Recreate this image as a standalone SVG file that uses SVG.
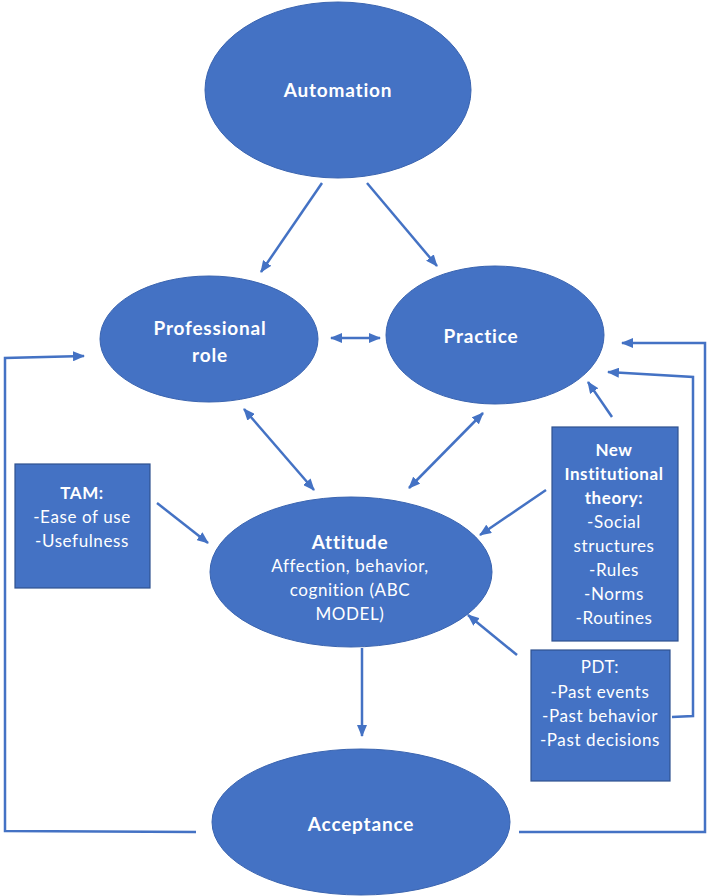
<svg xmlns="http://www.w3.org/2000/svg" width="707" height="896" viewBox="0 0 707 896">
  <defs>
    <marker id="arrow" viewBox="0 0 12 10" refX="11" refY="5" markerWidth="12" markerHeight="10" markerUnits="userSpaceOnUse" orient="auto-start-reverse">
      <path d="M0,0 L12,5 L0,10 Z" fill="#4472C4"/>
    </marker>
    <style>
      .node { fill: #4472C4; stroke: #3A64B0; stroke-width: 1; }
      .box { fill: #4472C4; stroke: #2F528F; stroke-width: 1.2; }
      .title { font-family: Lato, "Liberation Sans", sans-serif; font-weight: bold; font-size: 19px; letter-spacing: 0.8px; fill: #ffffff; text-anchor: middle; }
      .body { font-family: Lato, "Liberation Sans", sans-serif; font-size: 17px; letter-spacing: 0.6px; fill: #ffffff; text-anchor: middle; }
      .hd { font-weight: bold; }
      .link { fill: none; stroke: #4472C4; stroke-width: 2.5; }
    </style>
  </defs>

  <rect width="707" height="896" fill="#ffffff"/>

  <g id="connectors">
    <line class="link" x1="322" y1="183" x2="261" y2="272" marker-end="url(#arrow)"/>
    <line class="link" x1="367" y1="183" x2="437" y2="266" marker-end="url(#arrow)"/>
    <line class="link" x1="331" y1="338" x2="380" y2="338" marker-start="url(#arrow)" marker-end="url(#arrow)"/>
    <line class="link" x1="244" y1="409" x2="314" y2="490" marker-start="url(#arrow)" marker-end="url(#arrow)"/>
    <line class="link" x1="483" y1="413" x2="409" y2="488" marker-start="url(#arrow)" marker-end="url(#arrow)"/>
    <line class="link" x1="157" y1="503" x2="208" y2="543" marker-end="url(#arrow)"/>
    <line class="link" x1="546" y1="490" x2="480" y2="535" marker-end="url(#arrow)"/>
    <line class="link" x1="612" y1="417" x2="588" y2="382" marker-end="url(#arrow)"/>
    <line class="link" x1="517" y1="655" x2="468" y2="615" marker-end="url(#arrow)"/>
    <line class="link" x1="362" y1="648" x2="362" y2="736" marker-end="url(#arrow)"/>
    <polyline class="link" points="672,717 693,716 693,377 608,372" marker-end="url(#arrow)"/>
    <polyline class="link" points="519,832 705,832 705,343 622,343" marker-end="url(#arrow)"/>
    <polyline class="link" points="196,832 5,831 5,358 84,356" marker-end="url(#arrow)"/>
  </g>

  <g id="automation">
    <ellipse class="node" cx="338" cy="90" rx="133" ry="88"/>
    <text class="title" x="338" y="97">Automation</text>
  </g>

  <g id="professional-role">
    <ellipse class="node" cx="209" cy="339" rx="109" ry="63"/>
    <text class="title" x="210" y="335">Professional</text>
    <text class="title" x="210" y="362">role</text>
  </g>

  <g id="practice">
    <ellipse class="node" cx="495" cy="335" rx="109" ry="69"/>
    <text class="title" x="481" y="343">Practice</text>
  </g>

  <g id="attitude">
    <ellipse class="node" cx="351" cy="572" rx="141" ry="75"/>
    <text class="title" x="350" y="549">Attitude</text>
    <text class="body" x="350" y="572">Affection, behavior,</text>
    <text class="body" x="350" y="596">cognition (ABC</text>
    <text class="body" x="350" y="620">MODEL)</text>
  </g>

  <g id="acceptance">
    <ellipse class="node" cx="361" cy="822" rx="149" ry="73"/>
    <text class="title" x="361" y="831">Acceptance</text>
  </g>

  <g id="tam">
    <rect class="box" x="15" y="464" width="135" height="124"/>
    <text class="body hd" x="82" y="499">TAM:</text>
    <text class="body" x="82" y="523">-Ease of use</text>
    <text class="body" x="82" y="547">-Usefulness</text>
  </g>

  <g id="new-institutional-theory">
    <rect class="box" x="552" y="427" width="126" height="214"/>
    <text class="body hd" x="614" y="456">New</text>
    <text class="body hd" x="614" y="480">Institutional</text>
    <text class="body hd" x="614" y="504">theory:</text>
    <text class="body" x="614" y="528">-Social</text>
    <text class="body" x="614" y="552">structures</text>
    <text class="body" x="614" y="576">-Rules</text>
    <text class="body" x="614" y="600">-Norms</text>
    <text class="body" x="614" y="624">-Routines</text>
  </g>

  <g id="pdt">
    <rect class="box" x="531" y="650" width="139" height="131"/>
    <text class="body" x="600" y="673">PDT:</text>
    <text class="body" x="600" y="698">-Past events</text>
    <text class="body" x="600" y="722">-Past behavior</text>
    <text class="body" x="600" y="746">-Past decisions</text>
  </g>
</svg>
